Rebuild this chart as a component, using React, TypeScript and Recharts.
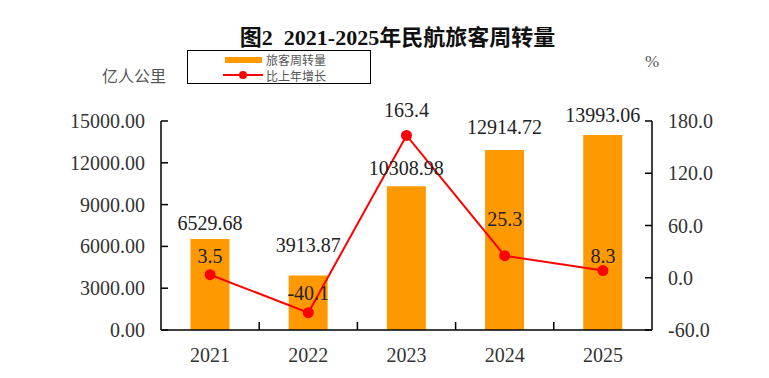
import React from 'react';
import { ComposedChart, Bar, Line, XAxis, YAxis, LabelList } from 'recharts';

const years = ['2021', '2022', '2023', '2024', '2025'];
const turnover = [6529.68, 3913.87, 10308.98, 12914.72, 13993.06];
const growth = [3.5, -40.1, 163.4, 25.3, 8.3];
const leftTicks = [0, 3000, 6000, 9000, 12000, 15000];
const rightTicks = [-60, 0, 60, 120, 180];

// the source nudged each value label by hand, so keep the lift per point
const barLabelLift = [16, 30, 18, 23, 20];
const lineLabelLift = [19, 20, 25, 37, 15];

const data = years.map((year, i) => ({ year, turnover: turnover[i], growth: growth[i] }));

const SERIF = "'Liberation Serif', 'Times New Roman', 'Noto Sans CJK SC', serif";
const CJK = "'Noto Sans CJK SC', sans-serif";
const TICK_GAP = 16;

const CHART_W = 769;
const CHART_H = 378;
const MARGIN = { top: 121, right: 27, bottom: 8, left: 71 };
const Y_AXIS_W = 90;
const PLOT_W = CHART_W - MARGIN.left - MARGIN.right - 2 * Y_AXIS_W;

const LeftTick = (props: any) => {
  const { x, y, payload } = props;
  const axisX = x + TICK_GAP;
  return (
    <g>
      <line x1={axisX} x2={axisX + 7} y1={y} y2={y} stroke="#000" strokeWidth={1.5} />
      <text x={x} y={y} textAnchor="end" dominantBaseline="central" fontSize={20} fontFamily={SERIF} fill="#333">
        {Number(payload.value).toFixed(2)}
      </text>
    </g>
  );
};

const RightTick = (props: any) => {
  const { x, y, payload } = props;
  const axisX = x - TICK_GAP;
  return (
    <g>
      <line x1={axisX - 7} x2={axisX} y1={y} y2={y} stroke="#000" strokeWidth={1.5} />
      <text x={x} y={y} textAnchor="start" dominantBaseline="central" fontSize={20} fontFamily={SERIF} fill="#333">
        {Number(payload.value).toFixed(1)}
      </text>
    </g>
  );
};

// year label, plus the small upward tick on the band's left edge (not on the first band)
const YearTick = (props: any) => {
  const { x, y, payload, index } = props;
  const axisY = y - 18;
  const half = payload.offset || PLOT_W / years.length / 2;
  const i = index ?? years.indexOf(String(payload.value));
  return (
    <g>
      {i > 0 && (
        <line x1={x - half} x2={x - half} y1={axisY} y2={axisY - 8} stroke="#000" strokeWidth={1.5} />
      )}
      <text x={x} y={y} textAnchor="middle" dominantBaseline="hanging" fontSize={20} fontFamily={SERIF} fill="#333">
        {payload.value}
      </text>
    </g>
  );
};

const BarValue = (props: any) => {
  const { x, y, width, value, index } = props;
  const lift = barLabelLift[index] ?? 18;
  return (
    <text x={x + width / 2} y={y - lift} textAnchor="middle" dominantBaseline="central" fontSize={20} fontFamily={SERIF} fill="#222">
      {Number(value).toFixed(2)}
    </text>
  );
};

const LineValue = (props: any) => {
  const { x, y, value, index } = props;
  const lift = lineLabelLift[index] ?? 18;
  return (
    <text x={x} y={y - lift} textAnchor="middle" dominantBaseline="central" fontSize={20} fontFamily={SERIF} fill="#222">
      {Number(value).toFixed(1)}
    </text>
  );
};

export default function App() {
  return (
    <div style={{ position: 'absolute', left: 0, top: 0, width: CHART_W, height: CHART_H, background: '#fff' }}>
      <div
        style={{
          position: 'absolute', left: 0, width: 795, top: 19, textAlign: 'center',
          fontFamily: SERIF, fontWeight: 'bold', fontSize: 22, color: '#111', whiteSpace: 'pre',
        }}
      >
        {'图2  2021-2025年民航旅客周转量'}
      </div>

      <div style={{ position: 'absolute', left: 102, top: 63, fontFamily: CJK, fontSize: 16, color: '#555' }}>
        亿人公里
      </div>
      <div style={{ position: 'absolute', left: 645, top: 52, fontFamily: SERIF, fontSize: 17, color: '#555' }}>%</div>

      <div
        style={{
          position: 'absolute', left: 187, top: 50, width: 182, height: 32, border: '1.5px solid #000',
          fontFamily: CJK, fontSize: 12, color: '#555',
        }}
      >
        <svg width={80} height={32} style={{ position: 'absolute', left: 0, top: 0 }}>
          <rect x={37} y={6} width={37} height={6} fill="#FF9900" />
          <line x1={35} x2={75} y1={24} y2={24} stroke="#FF0000" strokeWidth={2} />
          <circle cx={55} cy={24} r={4} fill="#FF0000" />
        </svg>
        <span style={{ position: 'absolute', left: 78, top: 1, lineHeight: '15px' }}>旅客周转量</span>
        <span style={{ position: 'absolute', left: 78, top: 17, lineHeight: '15px' }}>比上年增长</span>
      </div>

      <ComposedChart width={CHART_W} height={CHART_H} data={data} margin={MARGIN} barCategoryGap="30%">
        <XAxis
          dataKey="year"
          axisLine={{ stroke: '#000', strokeWidth: 1.5 }}
          tickLine={false}
          tickSize={0}
          tickMargin={18}
          height={40}
          tick={<YearTick />}
        />
        <YAxis
          yAxisId="left"
          domain={[0, 15000]}
          ticks={leftTicks}
          width={Y_AXIS_W}
          axisLine={{ stroke: '#000', strokeWidth: 1.5 }}
          tickLine={false}
          tickSize={0}
          tickMargin={TICK_GAP}
          tick={<LeftTick />}
        />
        <YAxis
          yAxisId="right"
          orientation="right"
          domain={[-60, 180]}
          ticks={rightTicks}
          width={Y_AXIS_W}
          axisLine={{ stroke: '#000', strokeWidth: 1.5 }}
          tickLine={false}
          tickSize={0}
          tickMargin={TICK_GAP}
          tick={<RightTick />}
        />
        <Bar yAxisId="left" dataKey="turnover" fill="#FF9900" isAnimationActive={false}>
          <LabelList dataKey="turnover" content={<BarValue />} />
        </Bar>
        <Line
          yAxisId="right"
          dataKey="growth"
          stroke="#FF0000"
          strokeWidth={2}
          dot={{ r: 5.5, fill: '#FF0000', stroke: '#FF0000', strokeWidth: 0 }}
          activeDot={false}
          isAnimationActive={false}
        >
          <LabelList dataKey="growth" content={<LineValue />} />
        </Line>
      </ComposedChart>
    </div>
  );
}
